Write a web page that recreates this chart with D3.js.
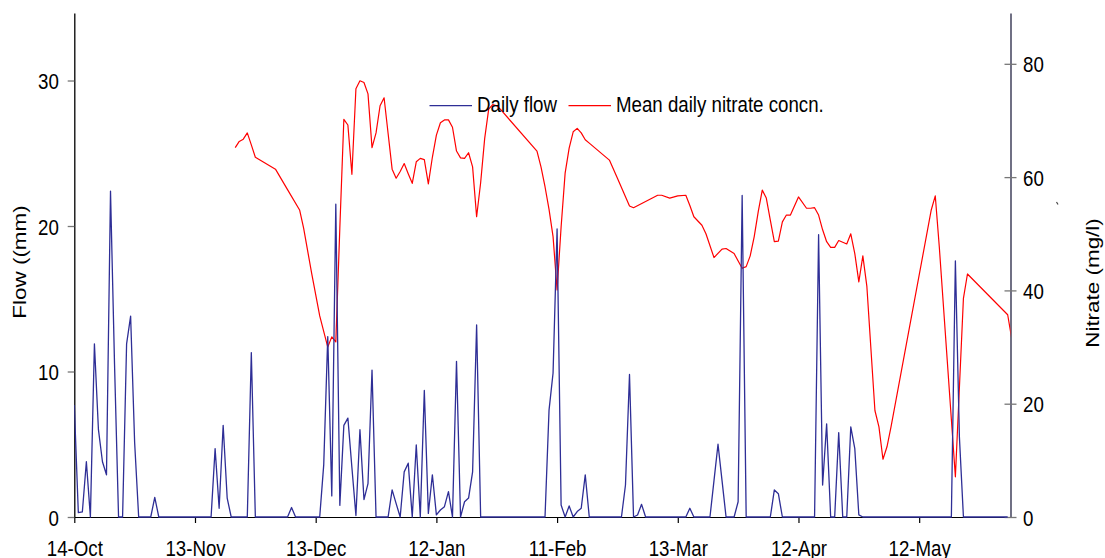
<!DOCTYPE html>
<html>
<head>
<meta charset="utf-8">
<script src="https://cdn.jsdelivr.net/npm/d3@7"></script>
<style>
  html, body { margin: 0; padding: 0; background: #fff; }
  svg { display: block; }
  text { font-family: "Liberation Sans", Arial, sans-serif; font-size: 18.7px; fill: #000; }
</style>
</head>
<body>
<div id="chart"></div>
<script>
// ---------------- data ----------------
const startDate = "2001-10-14";           // day 0 of the flow series
const flowValues = [                       // daily flow (mm), one value per day
  7.7, 0.3, 0.35, 3.8, 0, 11.9, 6.0, 3.8, 2.9, 22.4,
  10.5, 0, 0, 11.9, 13.8, 5.1, 0, 0, 0, 0,
  1.35, 0, 0, 0, 0, 0, 0, 0, 0, 0,
  0, 0, 0, 0, 0, 4.7, 0.6, 6.3, 1.3, 0,
  0, 0, 0, 0, 11.3, 0, 0, 0, 0, 0,
  0, 0, 0, 0, 0.65, 0, 0, 0, 0, 0,
  0, 0, 3.6, 12.4, 1.45, 21.5, 0.8, 6.3, 6.8, 3.4,
  0.1, 6.0, 1.2, 2.3, 10.1, 0, 0, 0, 0, 1.86,
  0.92, 0, 3.1, 3.7, 0, 4.95, 0, 8.7, 0.25, 2.9,
  0.14, 0.48, 0.71, 1.74, 0, 10.7, 0, 1.05, 1.3, 3.1,
  13.2, 0, 0, 0, 0, 0, 0, 0, 0, 0,
  0, 0, 0, 0, 0, 0, 0, 0, 7.35, 9.9,
  19.8, 0.82, 0, 0.76, 0, 0.37, 0.6, 2.9, 0, 0,
  0, 0, 0, 0, 0, 0, 0, 2.2, 9.8, 0,
  0.14, 0.87, 0, 0, 0, 0, 0, 0, 0, 0,
  0, 0, 0, 0.6, 0, 0, 0, 0, 0, 2.5,
  5.0, 2.5, 0, 0, 0, 1.05, 22.1, 0, 0, 0,
  0, 0, 0, 0, 1.86, 1.6, 0, 0, 0, 0,
  0, 0, 0, 0, 0, 19.4, 2.2, 6.4, 0, 0,
  5.8, 0, 0, 6.2, 4.7, 0.15, 0, 0, 0, 0,
  0, 0, 0, 0, 0, 0, 0, 0, 0, 0,
  0, 0, 0, 0, 0, 0, 0, 0, 0, 17.6,
  5.5, 0, 0, 0, 0, 0, 0, 0, 0, 0,
  0, 0, 0
];
const nitrateDays = [
  40, 41, 42, 43, 44, 45, 50, 53, 56, 57, 59, 61, 63, 64, 65, 66, 67, 68, 69,
  70, 71, 72, 73, 74, 75, 76, 77, 78, 79, 80, 81, 82, 83, 84, 85, 86, 87, 88, 89,
  90, 91, 92, 93, 94, 95, 96, 97, 98, 99, 100, 101, 102, 103, 104, 105, 106,
  115, 116, 117, 118, 119, 120, 121, 122, 123, 124, 125, 126, 127, 128, 133, 135, 138, 139,
  145, 146, 148, 150, 152, 153, 154, 156, 157, 159, 161, 162, 164, 166, 167, 168, 169,
  170, 171, 172, 173, 174, 175, 176, 177, 178, 180, 182, 183, 184, 185, 186, 187, 188, 189,
  190, 191, 192, 193, 194, 195, 196, 197, 199, 200, 201, 202, 203, 213, 214, 215, 219,
  221, 222, 232, 233
];
const nitrateValues = [                    // mean daily nitrate concentration (mg/l)
  65.2, 66.3, 66.7, 67.8, 65.7, 63.5, 61.4, 57.8, 54.2, 51.0, 43.0, 35.5, 30.0, 31.8, 30.9, 51.0, 70.2, 69.2, 60.5,
  75.6, 77.0, 76.7, 74.7, 65.2, 67.8, 72.6, 74.0, 67.7, 61.4, 59.8, 61.0, 62.4, 60.6, 58.9, 62.7, 63.3, 63.1, 58.8, 63.5,
  67.4, 69.6, 70.1, 70.1, 68.8, 64.6, 63.4, 63.3, 64.3, 61.8, 53.0, 59.0, 66.8, 72.0, 72.8, 72.6, 71.9,
  64.6, 61.8, 58.3, 54.3, 49.5, 40.1, 51.2, 60.7, 65.1, 68.0, 68.6, 67.8, 66.6, 66.0, 63.0, 59.8, 54.9, 54.6,
  56.8, 56.8, 56.3, 56.7, 56.8, 55.0, 53.0, 51.5, 50.0, 45.8, 47.3, 47.4, 46.5, 43.9, 44.2, 46.1, 49.5,
  53.9, 57.7, 56.3, 52.4, 48.6, 48.7, 52.1, 53.3, 53.3, 56.5, 54.5, 54.5, 54.6, 53.3, 50.7, 48.6, 47.6, 47.6,
  48.8, 48.5, 48.2, 50.0, 46.5, 41.5, 46.1, 40.7, 18.8, 15.9, 10.2, 12.4, 15.9, 54.2, 56.7, 47.7, 7.1,
  38.6, 42.9, 35.7, 31.5
];
const xTickDates = ["2001-10-14", "2001-11-13", "2001-12-13", "2002-01-12", "2002-02-11", "2002-03-13", "2002-04-12", "2002-05-12"];
const flowTicks = [0, 10, 20, 30];
const nitrateTicks = [0, 20, 40, 60, 80];
const legendLabels = ["Daily flow", "Mean daily nitrate concn."];
const axisTitles = { left: "Flow ((mm)", right: "Nitrate (mg/l)" };

(function () {
  // ---------------- layout ----------------
  const W = 1105, H = 558;
  const pL = 74.3, pR = 1010.5, pT = 13, pB = 517;
  const spanDays = 232.7;
  const DAY = 864e5;
  const parse = d3.utcParse("%Y-%m-%d");
  const t0 = parse(startDate);
  const dayDate = d => new Date(t0.getTime() + d * DAY);
  const fmt = d3.utcFormat("%-d-%b");

  const svg = d3.select("#chart").append("svg").attr("width", W).attr("height", H);

  const x = d3.scaleUtc().domain([t0, dayDate(spanDays)]).range([pL, pR]);
  const yL = d3.scaleLinear().domain([0, 34.64]).range([pB, pT]);
  const yR = d3.scaleLinear().domain([0, 88.97]).range([pB, pT]);

  const FS = 1.2; // vertical stretch of the text in the reference

  svg.append("defs").append("clipPath").attr("id", "plotclip")
    .append("rect").attr("x", pL).attr("y", 0).attr("width", pR - pL).attr("height", H);

  // bottom axis
  const gx = svg.append("g").attr("transform", `translate(0,${pB})`)
    .call(d3.axisBottom(x).tickValues(xTickDates.map(parse)).tickFormat(fmt).tickSize(6).tickSizeOuter(0));
  gx.select(".domain").attr("stroke", "#000").attr("stroke-width", 1.2);
  gx.selectAll(".tick line").attr("stroke", "#000").attr("stroke-width", 1.2);
  gx.selectAll(".tick text").attr("y", null).attr("dy", null)
    .attr("transform", `translate(0,39) scale(1,${FS})`);
  gx.attr("font-size", null).attr("font-family", null);

  // left axis
  const gl = svg.append("g").attr("transform", `translate(${pL},0)`)
    .call(d3.axisLeft(yL).tickValues(flowTicks).tickSize(6.6).tickSizeOuter(0));
  gl.select(".domain").attr("stroke", "#000").attr("stroke-width", 1.3);
  gl.selectAll(".tick line").attr("stroke", "#777").attr("stroke-width", 1.3);
  gl.selectAll(".tick text").attr("x", null).attr("dy", null)
    .attr("transform", `translate(-15.5,8) scale(1,${FS})`);
  gl.attr("font-size", null).attr("font-family", null);

  // right axis
  const gr = svg.append("g").attr("transform", `translate(${pR},0)`)
    .call(d3.axisRight(yR).tickValues(nitrateTicks).tickSize(6).tickSizeOuter(0));
  gr.select(".domain").attr("stroke", "#111133").attr("stroke-width", 1.2);
  gr.selectAll(".tick line").attr("x1", -6).attr("stroke", "#777").attr("stroke-width", 1.3);
  gr.selectAll(".tick text").attr("x", null).attr("dy", null)
    .attr("transform", `translate(12.5,8) scale(1,${FS})`);
  gr.attr("font-size", null).attr("font-family", null);

  // axis titles
  svg.append("text").attr("text-anchor", "middle")
    .attr("transform", `translate(26,262) scale(1,${FS}) rotate(-90)`).text(axisTitles.left);
  svg.append("text").attr("text-anchor", "middle")
    .attr("transform", `translate(1099,283) scale(1,${FS}) rotate(-90)`).text(axisTitles.right);

  // stray mark seen in the reference
  svg.append("line").attr("x1", 1056.5).attr("y1", 202).attr("x2", 1058).attr("y2", 204.5)
    .attr("stroke", "#444").attr("stroke-width", 1.2);

  // series
  const plot = svg.append("g").attr("clip-path", "url(#plotclip)");
  const flowData = flowValues.map((v, i) => ({ d: i, v }));
  const nitData = nitrateDays.map((d, i) => ({ d, v: nitrateValues[i] }));

  plot.append("path").datum(nitData)
    .attr("fill", "none").attr("stroke", "#ff0000").attr("stroke-width", 1.2)
    .attr("stroke-linejoin", "round")
    .attr("d", d3.line().x(p => x(dayDate(p.d))).y(p => yR(p.v)));

  plot.append("path").datum(flowData)
    .attr("fill", "none").attr("stroke", "#2e2e96").attr("stroke-width", 1.3)
    .attr("stroke-linejoin", "round")
    .attr("d", d3.line().x(p => x(dayDate(p.d))).y(p => yL(p.v)));

  // legend
  const legendItems = [
    { label: legendLabels[0], color: "#2e2e96", x1: 429.5, x2: 472, tx: 477 },
    { label: legendLabels[1], color: "#ff0000", x1: 568.5, x2: 611, tx: 616 }
  ];
  const lg = svg.append("g");
  legendItems.forEach(it => {
    lg.append("line").attr("x1", it.x1).attr("x2", it.x2).attr("y1", 105.7).attr("y2", 105.7)
      .attr("stroke", it.color).attr("stroke-width", 1.3);
    lg.append("text").attr("transform", `translate(${it.tx},112) scale(1,${FS})`).text(it.label);
  });
})();
</script>
</body>
</html>
